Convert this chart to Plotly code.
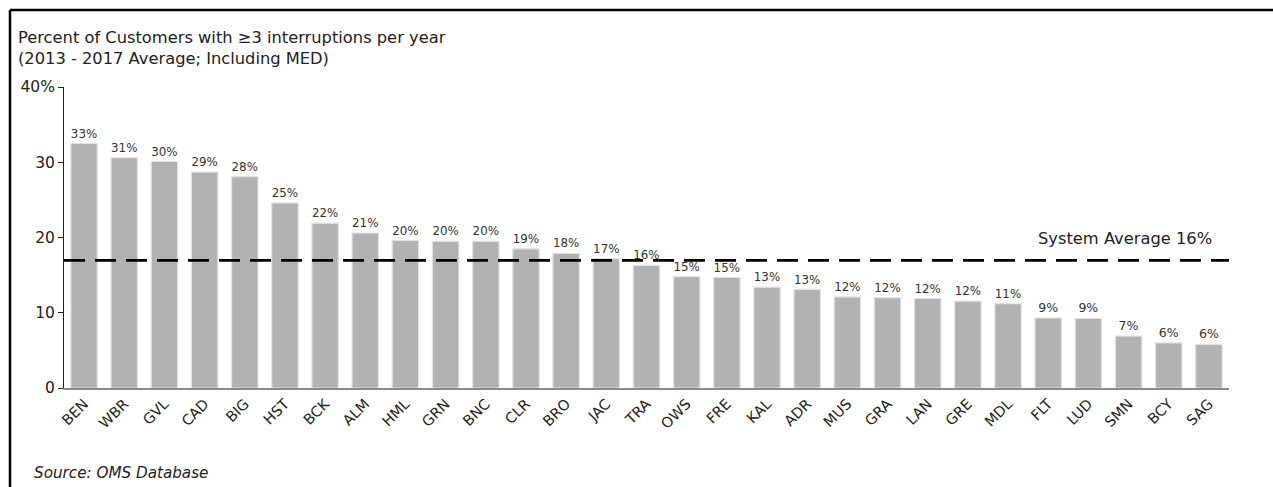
import plotly.graph_objects as go

# Service areas, sorted by share of customers with 3+ interruptions
areas = ["BEN", "WBR", "GVL", "CAD", "BIG", "HST", "BCK", "ALM", "HML", "GRN",
         "BNC", "CLR", "BRO", "JAC", "TRA", "OWS", "FRE", "KAL", "ADR", "MUS",
         "GRA", "LAN", "GRE", "MDL", "FLT", "LUD", "SMN", "BCY", "SAG"]
pct_customers = [32.5, 30.6, 30.1, 28.7, 28.1, 24.6, 21.9, 20.6, 19.6, 19.5,
                 19.5, 18.5, 17.9, 17.2, 16.3, 14.8, 14.7, 13.4, 13.1, 12.1,
                 12.0, 11.9, 11.55, 11.2, 9.3, 9.25, 6.9, 6.0, 5.8]
system_average = 16.95
system_average_label = "System Average 16%"
y_ticks = [0, 10, 20, 30, 40]
y_tick_text = ["0", "10", "20", "30", "40%"]

W, H = 1273, 487
ML, MR, MT, MB = 64, 44, 87, 99
PW, PH = W - ML - MR, H - MT - MB


def px_x(x):
    return (x - ML) / PW


def px_y(y):
    return (H - MB - y) / PH


FONT = "DejaVu Sans, Verdana, sans-serif"
labels = [f"{int(v + 0.5)}%" for v in pct_customers]

fig = go.Figure()
fig.add_trace(go.Bar(
    x=areas, y=pct_customers,
    marker=dict(color="#b2b2b2", line=dict(color="#e4e4e4", width=1.2)),
    text=labels, textposition="outside", cliponaxis=False,
    textfont=dict(size=12.5, color="#333333", family=FONT),
    hoverinfo="skip",
))

# System average reference line
fig.add_shape(type="line", xref="paper", yref="y", x0=0, x1=1,
              y0=system_average, y1=system_average,
              line=dict(color="black", width=2.8, dash="21px,10px"), layer="above")
fig.add_annotation(xref="paper", yref="y", x=px_x(1214), y=system_average,
                   yshift=22, xanchor="right", yanchor="middle",
                   text=system_average_label, showarrow=False,
                   font=dict(size=16.3, color="#222222", family=FONT))

# Chart heading and source note
fig.add_annotation(xref="paper", yref="paper", x=px_x(16), y=px_y(26),
                   xanchor="left", yanchor="top", align="left", showarrow=False,
                   text="Percent of Customers with \u22653 interruptions per year<br>(2013 - 2017 Average; Including MED)",
                   font=dict(size=16.3, color="#222222", family=FONT))
fig.add_annotation(xref="paper", yref="paper", x=px_x(32), y=px_y(473),
                   xanchor="left", yanchor="middle", showarrow=False,
                   text="<i>Source: OMS Database</i>",
                   font=dict(size=15.2, color="#222222", family=FONT))

# Outer frame (top and left edges)
fig.add_shape(type="line", xref="paper", yref="paper",
              x0=px_x(10), x1=px_x(W + 5), y0=px_y(10), y1=px_y(10),
              line=dict(color="black", width=2.5))
fig.add_shape(type="line", xref="paper", yref="paper",
              x0=px_x(10), x1=px_x(10), y0=px_y(10), y1=px_y(H + 5),
              line=dict(color="black", width=2.5))

fig.update_layout(
    width=W, height=H,
    margin=dict(l=ML, r=MR, t=MT, b=MB, pad=0),
    paper_bgcolor="white", plot_bgcolor="white",
    bargap=0.34, showlegend=False,
    font=dict(family=FONT, color="#222222"),
)
fig.update_xaxes(
    range=[-0.5, len(areas) - 0.5], tickangle=-45,
    tickfont=dict(size=14.5, color="#222222", family=FONT),
    showline=True, linecolor="#8a8a8a", linewidth=1.5,
    ticks="", showgrid=False, zeroline=False,
)
fig.update_yaxes(
    range=[0, 40], tickvals=y_ticks, ticktext=y_tick_text,
    tickfont=dict(size=15.5, color="#222222", family=FONT),
    showline=True, linecolor="#222222", linewidth=1,
    ticks="outside", ticklen=5, tickcolor="#222222",
    showgrid=False, zeroline=False,
)

fig.write_html("out.html")
